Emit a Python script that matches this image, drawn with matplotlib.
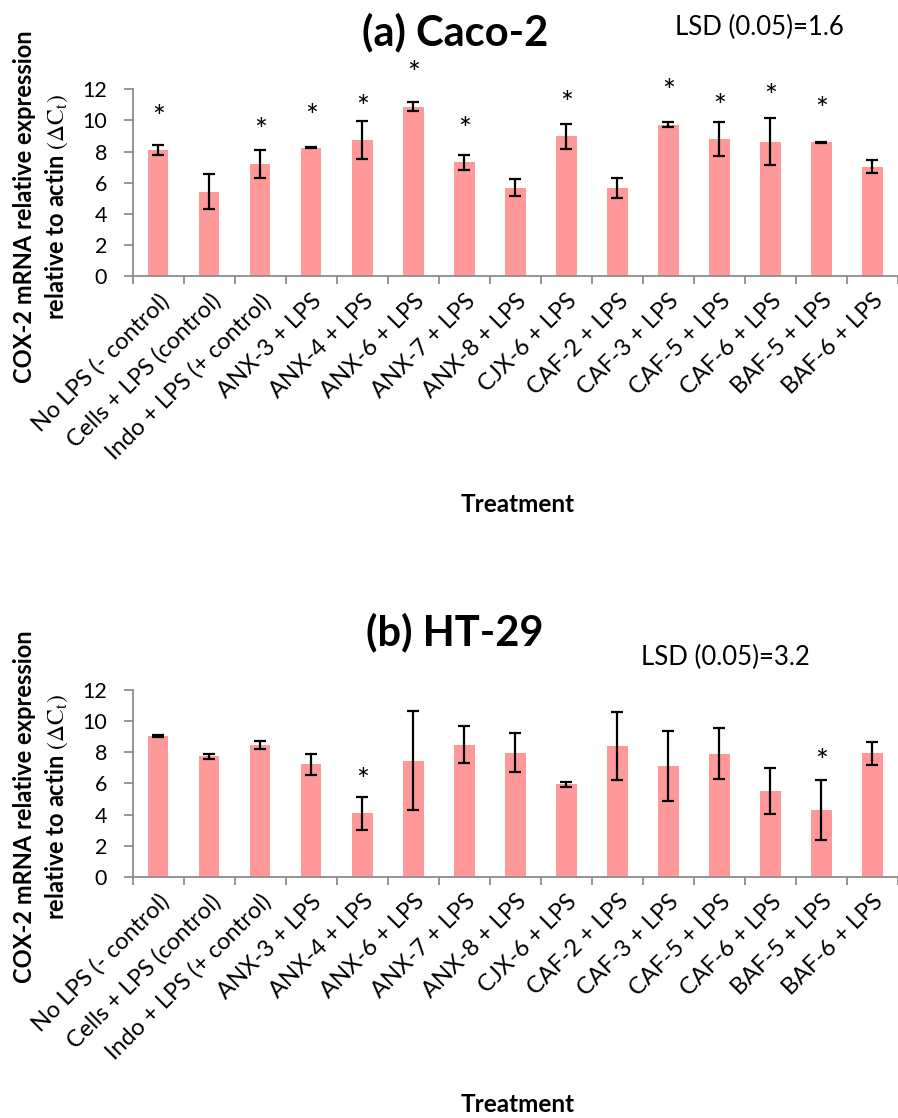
import numpy as np
import matplotlib
matplotlib.use("Agg")
import matplotlib.pyplot as plt

plt.rcParams['font.family'] = ['Lato', 'DejaVu Sans']
plt.rcParams['mathtext.fontset'] = 'stix'

treatments = ["No LPS (- control)", "Cells + LPS (control)", "Indo + LPS (+ control)",
              "ANX-3 + LPS", "ANX-4 + LPS", "ANX-6 + LPS", "ANX-7 + LPS", "ANX-8 + LPS",
              "CJX-6 + LPS", "CAF-2 + LPS", "CAF-3 + LPS", "CAF-5 + LPS", "CAF-6 + LPS",
              "BAF-5 + LPS", "BAF-6 + LPS"]

caco_mean = [8.1, 5.42, 7.2, 8.25, 8.74, 10.88, 7.3, 5.68, 8.97, 5.66, 9.73, 8.8, 8.63, 8.59, 7.02]
caco_err = [0.33, 1.12, 0.87, 0.03, 1.25, 0.3, 0.47, 0.55, 0.78, 0.67, 0.15, 1.08, 1.5, 0.02, 0.41]
caco_star = [10.15, None, 9.3, 10.24, 10.77, 12.98, 9.38, None, 11.03, None, 11.83, 10.84, 11.52, 10.67, None]

ht_mean = [9.06, 7.74, 8.48, 7.22, 4.08, 7.46, 8.48, 7.97, 5.94, 8.42, 7.1, 7.9, 5.51, 4.27, 7.95]
ht_err = [0.08, 0.18, 0.26, 0.67, 1.05, 3.17, 1.2, 1.25, 0.18, 2.18, 2.25, 1.63, 1.5, 1.93, 0.74]
ht_star = [None, None, None, None, 6.17, None, None, None, None, None, None, None, None, 7.39, None]

fig = plt.figure(figsize=(8.98, 11.18), dpi=100)

grey = '#8c8c8c'
bar_color = '#ff9999'


def panel(bottom, means, errs, stars, title, title_y, lsd, lsd_x, lsd_y, label_y, treat_y):
    ax = fig.add_axes([0.1478, bottom, 0.8522, 0.167])
    x = np.arange(len(treatments))
    ax.bar(x, means, width=0.4, color=bar_color, zorder=2)
    ax.errorbar(x, means, yerr=errs, fmt='none', ecolor='black', elinewidth=1.6,
                capsize=4.5, capthick=1.6, zorder=3)
    for xi, s in zip(x, stars):
        if s is not None:
            ax.text(xi, s, '*', ha='center', va='center', fontsize=22, clip_on=False)
    ax.set_xlim(-0.5, 14.38)
    ax.set_ylim(0, 12)
    ax.set_yticks(range(0, 13, 2))
    ax.set_xticks(x)
    ax.set_xticklabels(treatments, rotation=45, ha='right', va='top',
                       rotation_mode='anchor', fontsize=17)
    ax.set_xticks(np.arange(-0.5, 15, 1), minor=True)
    ax.tick_params(axis='x', which='major', length=0, pad=10)
    ax.tick_params(axis='x', which='minor', length=5.5, width=1.3, color=grey)
    ax.tick_params(axis='y', length=6.5, width=1.3, color=grey, labelsize=15.5, pad=12)
    for sp in ['top', 'right']:
        ax.spines[sp].set_visible(False)
    for sp in ['left', 'bottom']:
        ax.spines[sp].set_color(grey)
        ax.spines[sp].set_linewidth(1.3)
    fig.text(455 / 898, 1 - title_y / 1118, title, ha='center', va='center',
             fontsize=30, fontweight='bold')
    fig.text(lsd_x / 898, 1 - lsd_y / 1118, lsd, ha='center', va='center', fontsize=18.5)
    fig.text(25 / 898, 1 - label_y / 1118, 'COX-2 mRNA relative expression',
             rotation=90, ha='center', va='center', fontsize=17, fontweight='bold')
    fig.text(57 / 898, 1 - label_y / 1118,
             r'relative to actin $(\Delta\mathrm{C}_\mathrm{t})$',
             rotation=90, ha='center', va='center', fontsize=17, fontweight='bold')
    fig.text(518 / 898, 1 - treat_y / 1118, 'Treatment', ha='center', va='center',
             fontsize=17.5, fontweight='bold')
    return ax


panel(0.7531, caco_mean, caco_err, caco_star, '(a) Caco-2', 32, 'LSD (0.05)=1.6', 759, 27, 207, 505)
panel(0.2158, ht_mean, ht_err, ht_star, '(b) HT-29', 632, 'LSD (0.05)=3.2', 725, 657, 807, 1105)

fig.savefig('out.png', dpi=100)
